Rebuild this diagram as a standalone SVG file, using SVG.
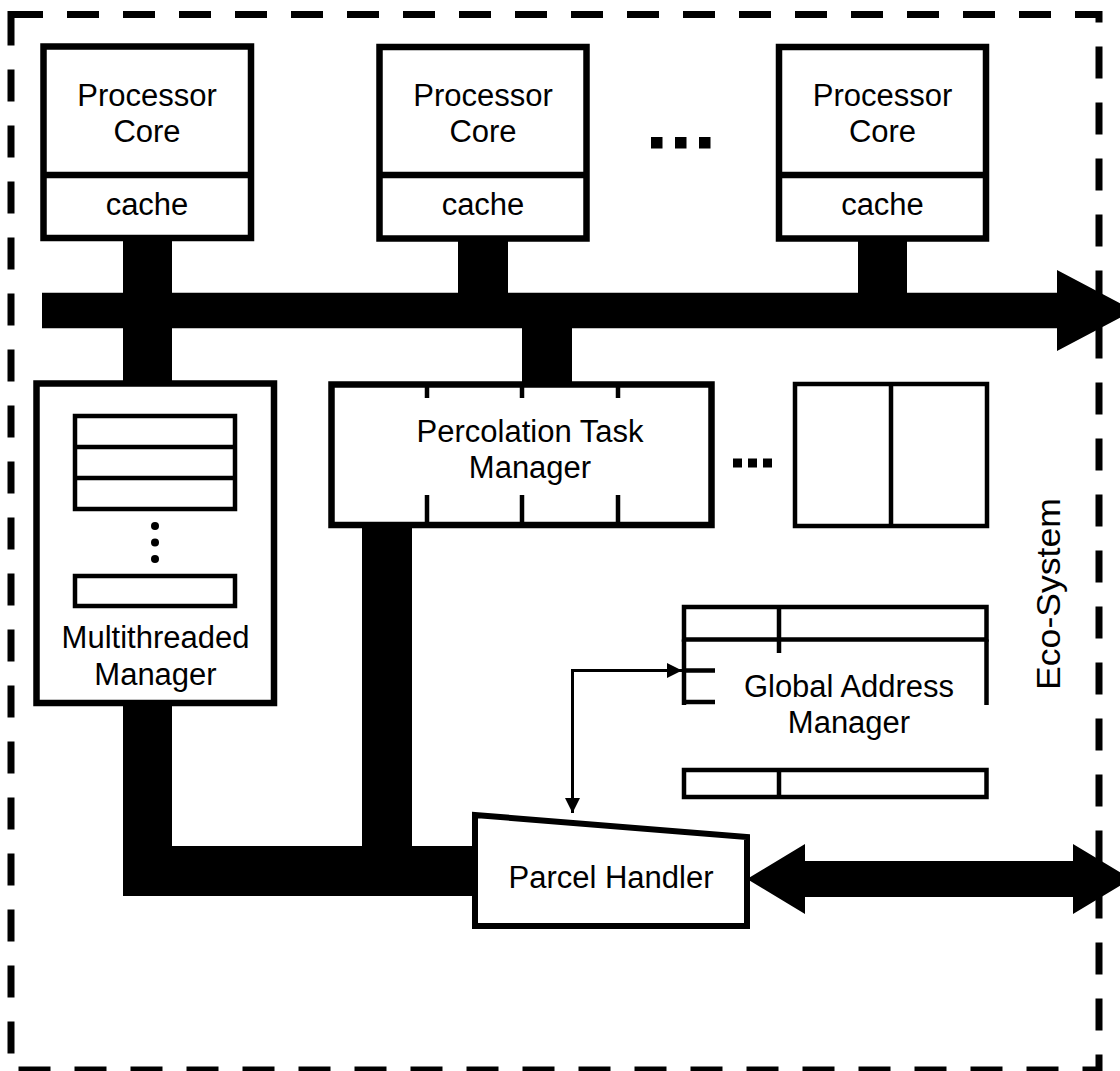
<svg xmlns="http://www.w3.org/2000/svg" width="1120" height="1071" viewBox="0 0 1120 1071">
<defs>
<style>
.box{fill:#fff;stroke:#000;stroke-width:6.5}
.mid{fill:#fff;stroke:#000;stroke-width:4.5}
.ln{fill:none;stroke:#000;stroke-width:4.5}
.t{font-family:"Liberation Sans",Arial,Helvetica,sans-serif;font-size:31px;fill:#000;text-anchor:middle}
.bar{fill:#000}
</style>
<marker id="ah" viewBox="0 0 15 15" refX="15" refY="7.5" markerWidth="15" markerHeight="15" markerUnits="userSpaceOnUse" orient="auto-start-reverse"><path d="M0,0 L15,7.5 L0,15 Z" fill="#000"/></marker>
</defs>
<rect width="1120" height="1071" fill="#fff"/>
<rect id="eco-border" x="11" y="14.5" width="1088" height="1055.5" fill="none" stroke="#000" stroke-width="7" stroke-dasharray="32 24"/>

<g id="connectors">
<rect class="bar" x="123" y="238" width="49" height="146"/>
<rect class="bar" x="458" y="238" width="50" height="60"/>
<rect class="bar" x="858" y="238" width="49" height="60"/>
<rect class="bar" x="522" y="325" width="50" height="60"/>
<polygon class="bar" points="42,292.7 1057,292.7 1057,270 1134,310.5 1057,351 1057,328.3 42,328.3"/>
<rect class="bar" x="123" y="703" width="49" height="193"/>
<rect class="bar" x="123" y="846" width="353" height="50"/>
<rect class="bar" x="362" y="525" width="50" height="330"/>
<polygon class="bar" points="747,879 805,844 805,861 1073,861 1073,844 1131,879 1073,914 1073,897 805,897 805,914"/>
<path d="M682,670.5 H572.5 V813" fill="none" stroke="#000" stroke-width="3" marker-start="url(#ah)" marker-end="url(#ah)"/>
</g>

<g id="proc1">
<rect class="box" x="43.5" y="46.5" width="207.5" height="191.5"/>
<line x1="43.5" y1="175" x2="251" y2="175" stroke="#000" stroke-width="6.5"/>
<text class="t" x="147" y="106">Processor</text>
<text class="t" x="147" y="142">Core</text>
<text class="t" x="147" y="215">cache</text>
</g>
<g id="proc2">
<rect class="box" x="379.5" y="47" width="207" height="191.5"/>
<line x1="379.5" y1="175" x2="586.5" y2="175" stroke="#000" stroke-width="6.5"/>
<text class="t" x="483" y="106">Processor</text>
<text class="t" x="483" y="142">Core</text>
<text class="t" x="483" y="215">cache</text>
</g>
<g id="ellipsis-top">
<rect class="bar" x="651" y="137" width="11.5" height="11.5"/>
<rect class="bar" x="675" y="137" width="11.5" height="11.5"/>
<rect class="bar" x="699" y="137" width="11.5" height="11.5"/>
</g>
<g id="proc3">
<rect class="box" x="779" y="47" width="207" height="191.5"/>
<line x1="779" y1="175" x2="986" y2="175" stroke="#000" stroke-width="6.5"/>
<text class="t" x="882.5" y="106">Processor</text>
<text class="t" x="882.5" y="142">Core</text>
<text class="t" x="882.5" y="215">cache</text>
</g>

<g id="multithreaded-manager">
<rect class="box" x="36.5" y="383.5" width="237.5" height="319.5"/>
<rect class="mid" x="75" y="416" width="160" height="93"/>
<line class="ln" x1="75" y1="447" x2="235" y2="447"/>
<line class="ln" x1="75" y1="478" x2="235" y2="478"/>
<circle cx="155" cy="526" r="4"/>
<circle cx="155" cy="542.5" r="4"/>
<circle cx="155" cy="559" r="4"/>
<rect class="mid" x="75" y="576" width="160" height="30"/>
<text class="t" x="155.5" y="648">Multithreaded</text>
<text class="t" x="155.5" y="685">Manager</text>
</g>

<g id="percolation-task-manager">
<rect class="box" x="331.5" y="384.5" width="380" height="140.5"/>
<path class="ln" d="M427,384.5 V398 M522,384.5 V398 M618,384.5 V398 M427,495 V525 M522,495 V525 M618,495 V525"/>
<text class="t" x="530" y="442">Percolation Task</text>
<text class="t" x="530" y="478">Manager</text>
</g>

<g id="ellipsis-mid">
<rect class="bar" x="733" y="458.5" width="9" height="9"/>
<rect class="bar" x="748" y="458.5" width="9" height="9"/>
<rect class="bar" x="763" y="458.5" width="9" height="9"/>
</g>

<g id="right-box">
<rect class="mid" x="795" y="384" width="192" height="142"/>
<line class="ln" x1="891" y1="384" x2="891" y2="526"/>
</g>

<g id="global-address-manager">
<rect class="mid" x="684" y="607" width="302.5" height="32.5"/>
<path class="ln" d="M779,607 V653 M684,639.5 V705 M986.5,639.5 V705 M684,670.5 H715 M684,702 H715"/>
<rect class="mid" x="684" y="770" width="302.5" height="27"/>
<line class="ln" x1="779" y1="770" x2="779" y2="797"/>
<text class="t" x="849" y="697">Global Address</text>
<text class="t" x="849" y="733">Manager</text>
</g>

<g id="parcel-handler">
<polygon points="475,815 747,837 747,926 475,926" fill="#fff" stroke="#000" stroke-width="6"/>
<text class="t" x="611" y="888">Parcel Handler</text>
</g>

<g id="eco-label">
<text class="t" style="font-size:33px" textLength="192" lengthAdjust="spacingAndGlyphs" transform="translate(1060,594) rotate(-90)">Eco-System</text>
</g>
</svg>
